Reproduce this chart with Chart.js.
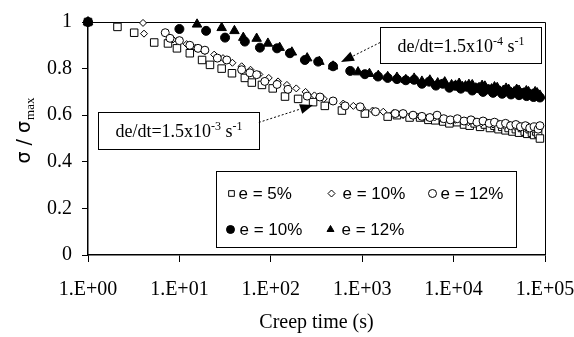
<!DOCTYPE html>
<html>
<head>
<meta charset="utf-8">
<script src="https://cdn.jsdelivr.net/npm/chart.js@4.4.1/dist/chart.umd.min.js"></script>
<style>
  html, body { margin: 0; padding: 0; background: #fff; }
  #wrap { width: 574px; height: 337px; }
</style>
</head>
<body>
<div id="wrap"><canvas id="creepChart" width="574" height="337"></canvas></div>
<script>
// creep time (s) and sigma / sigma_max for each run
const t5 = [1, 2.1, 3.2, 5.3, 7.5, 9.4, 13, 17.7, 21.6, 29, 37.6, 52, 62, 80, 105, 143, 199, 290, 390, 600, 1070, 1900, 2400, 3300, 4300, 5300, 6300, 7700, 9000, 11000, 13000, 15000, 17000, 19500, 22000, 25000, 28000, 31000, 34000, 37000, 40000, 44000, 48000, 52000, 56000, 60000, 64000, 68000, 72000, 76000, 80000, 84000, 88000];
const s5 = [1, 0.979, 0.954, 0.912, 0.908, 0.887, 0.866, 0.837, 0.816, 0.80, 0.78, 0.76, 0.74, 0.73, 0.715, 0.68, 0.67, 0.656, 0.64, 0.62, 0.607, 0.594, 0.60, 0.59, 0.59, 0.58, 0.578, 0.573, 0.565, 0.57, 0.56, 0.555, 0.565, 0.55, 0.56, 0.545, 0.555, 0.54, 0.55, 0.535, 0.545, 0.53, 0.54, 0.525, 0.545, 0.53, 0.52, 0.54, 0.525, 0.515, 0.53, 0.52, 0.50];

const t10o = [1, 4, 4.1, 8.5, 12, 15, 19, 24, 30, 38, 48, 60, 75, 95, 120, 150, 190, 240, 300, 380, 480, 620, 800, 1000, 1300, 1700, 2200, 2800, 3500, 4300, 5200, 6200, 7400, 8800, 10500, 12500, 14500, 17000, 20000, 23000, 27000, 31000, 36000, 41000, 47000, 53000, 60000, 67000, 74000, 81000, 88000];
const s10o = [1, 0.996, 0.95, 0.925, 0.905, 0.89, 0.875, 0.86, 0.845, 0.825, 0.81, 0.795, 0.775, 0.76, 0.745, 0.73, 0.715, 0.70, 0.685, 0.67, 0.66, 0.65, 0.64, 0.63, 0.62, 0.615, 0.61, 0.60, 0.60, 0.595, 0.59, 0.59, 0.585, 0.58, 0.58, 0.575, 0.57, 0.575, 0.565, 0.57, 0.56, 0.565, 0.555, 0.56, 0.55, 0.555, 0.545, 0.55, 0.54, 0.545, 0.55];

const t12o = [1, 7, 7.9, 10, 13, 16, 19, 26, 33, 48, 59, 70, 86, 117, 154, 250, 345, 480, 650, 950, 1400, 2300, 2800, 3600, 4500, 5500, 6600, 7800, 9200, 11000, 13000, 15500, 18000, 21000, 24500, 28000, 32500, 37000, 42000, 48000, 54000, 61000, 68000, 76000, 84000, 88000];
const s12o = [1, 0.954, 0.93, 0.92, 0.90, 0.887, 0.879, 0.845, 0.837, 0.795, 0.782, 0.774, 0.745, 0.732, 0.711, 0.682, 0.678, 0.661, 0.64, 0.636, 0.615, 0.607, 0.607, 0.60, 0.595, 0.59, 0.60, 0.585, 0.58, 0.585, 0.575, 0.58, 0.57, 0.575, 0.565, 0.57, 0.56, 0.565, 0.555, 0.56, 0.55, 0.555, 0.545, 0.55, 0.54, 0.555];

const t10f = [1, 10, 19.6, 31.6, 52, 76, 117, 162, 236, 330, 480, 740, 1070, 1490, 1900, 2400, 3000, 3700, 4500, 5400, 6400, 7600, 9000, 10500, 12000, 14000, 16000, 18500, 21000, 24000, 27000, 30500, 34000, 38000, 42500, 47000, 52000, 57500, 63000, 69000, 75000, 81000, 88000];
const s10f = [1, 0.97, 0.962, 0.933, 0.916, 0.89, 0.887, 0.866, 0.837, 0.83, 0.81, 0.79, 0.776, 0.766, 0.76, 0.755, 0.75, 0.752, 0.735, 0.744, 0.727, 0.735, 0.718, 0.726, 0.714, 0.722, 0.706, 0.716, 0.700, 0.711, 0.696, 0.706, 0.692, 0.703, 0.689, 0.699, 0.686, 0.695, 0.682, 0.69, 0.678, 0.686, 0.676];

const t12f = [1, 15.6, 29, 40, 50, 70, 93, 125, 170, 250, 340, 480, 900, 1200, 1500, 1900, 2400, 3000, 3700, 4500, 5500, 6700, 8000, 9500, 10500, 11500, 12500, 13500, 14700, 16000, 17500, 19000, 20500, 22000, 24000, 26000, 28000, 30000, 32500, 35000, 37500, 40000, 43000, 46000, 49000, 52000, 55500, 59000, 62500, 66000, 70000, 74000, 78000, 82000, 85000, 88000];
const s12f = [1, 0.99, 0.975, 0.962, 0.933, 0.929, 0.908, 0.89, 0.87, 0.845, 0.83, 0.81, 0.785, 0.778, 0.77, 0.765, 0.762, 0.752, 0.758, 0.745, 0.75, 0.738, 0.742, 0.73, 0.728, 0.736, 0.722, 0.725, 0.731, 0.73, 0.716, 0.718, 0.727, 0.724, 0.708, 0.712, 0.721, 0.718, 0.702, 0.706, 0.715, 0.71, 0.696, 0.70, 0.71, 0.706, 0.69, 0.695, 0.704, 0.70, 0.686, 0.69, 0.70, 0.695, 0.68, 0.685];

const seriesLabels = ['e = 5%', 'e = 10%', 'e = 12%', 'e = 10%', 'e = 12%'];

const xTickValues = [1, 10, 100, 1000, 10000, 100000];
const xTickLabels = ['1.E+00', '1.E+01', '1.E+02', '1.E+03', '1.E+04', '1.E+05'];
const yTickValues = [0, 0.2, 0.4, 0.6, 0.8, 1];
const yTickLabels = ['0', '0.2', '0.4', '0.6', '0.8', '1'];

// strain rate notes: box [tLeft, tRight, top, bottom], arrow from -> to (data coords)
const notes = [
  { exp: '-3', box: [1.29, 74, 0.615, 0.456], from: [74, 0.569], to: [290, 0.644] },
  { exp: '-4', box: [1570, 90400, 0.979, 0.824], from: [1570, 0.912], to: [586, 0.828] }
];

const serif = '"Liberation Serif", "Times New Roman", serif';
const sans = '"Liberation Sans", Arial, sans-serif';

function pts(t, v) {
  return t.map((x, i) => ({ x: x, y: v[i] }));
}

// order: lower number is drawn on top, so the filled runs sit above the open ones
function series(label, t, v, style, radius, filled, order) {
  return {
    label: label,
    data: pts(t, v),
    order: order,
    pointStyle: style,
    pointRadius: radius,
    pointHoverRadius: radius,
    pointBackgroundColor: filled ? '#000' : '#fff',
    pointBorderColor: '#000',
    pointBorderWidth: 1,
    showLine: false,
    clip: false
  };
}

function marker(ctx, ds, x, y) {
  ctx.fillStyle = ds.pointBackgroundColor;
  ctx.strokeStyle = '#000';
  ctx.lineWidth = 1;
  Chart.helpers.drawPoint(ctx, { pointStyle: ds.pointStyle, radius: ds.pointRadius, rotation: 0, borderWidth: 1 }, x, y);
}

// frame round the plot area
const framePlugin = {
  id: 'frame',
  beforeDatasetsDraw(chart) {
    const a = chart.chartArea, ctx = chart.ctx;
    ctx.save();
    ctx.strokeStyle = '#000';
    ctx.lineWidth = 1;
    ctx.beginPath();
    ctx.moveTo(a.left, a.top + 0.5);
    ctx.lineTo(a.right + 0.5, a.top + 0.5);
    ctx.lineTo(a.right + 0.5, a.bottom);
    ctx.stroke();
    ctx.restore();
  }
};

// annotation boxes with dashed arrows
const notesPlugin = {
  id: 'notes',
  afterDatasetsDraw(chart) {
    const ctx = chart.ctx, xs = chart.scales.x, ys = chart.scales.y;
    ctx.save();
    notes.forEach(n => {
      const l = Math.round(xs.getPixelForValue(n.box[0])) + 0.5;
      const r = Math.round(xs.getPixelForValue(n.box[1])) + 0.5;
      const t = Math.round(ys.getPixelForValue(n.box[2])) + 0.5;
      const b = Math.round(ys.getPixelForValue(n.box[3])) + 0.5;
      ctx.fillStyle = '#fff';
      ctx.fillRect(l, t, r - l, b - t);
      ctx.strokeStyle = '#000';
      ctx.lineWidth = 1;
      ctx.setLineDash([]);
      ctx.strokeRect(l, t, r - l, b - t);

      // text with superscripts
      const parts = [['de/dt=1.5x10', 18, 0], [n.exp, 12, -7], [' s', 18, 0], ['-1', 12, -7]];
      let w = 0;
      parts.forEach(p => { ctx.font = p[1] + 'px ' + serif; w += ctx.measureText(p[0]).width; });
      let x = (l + r) / 2 - w / 2;
      const base = (t + b) / 2 + 6;
      ctx.fillStyle = '#000';
      ctx.textBaseline = 'alphabetic';
      parts.forEach(p => {
        ctx.font = p[1] + 'px ' + serif;
        ctx.fillText(p[0], x, base + p[2]);
        x += ctx.measureText(p[0]).width;
      });

      // arrow
      const x0 = xs.getPixelForValue(n.from[0]), y0 = ys.getPixelForValue(n.from[1]);
      const x1 = xs.getPixelForValue(n.to[0]), y1 = ys.getPixelForValue(n.to[1]);
      const ang = Math.atan2(y1 - y0, x1 - x0);
      const hl = 13, hw = 5;
      const bx = x1 - hl * Math.cos(ang), by = y1 - hl * Math.sin(ang);
      ctx.setLineDash([2, 2]);
      ctx.beginPath();
      ctx.moveTo(x0, y0);
      ctx.lineTo(bx, by);
      ctx.stroke();
      ctx.setLineDash([]);
      ctx.beginPath();
      ctx.moveTo(x1, y1);
      ctx.lineTo(bx + hw * Math.sin(ang), by - hw * Math.cos(ang));
      ctx.lineTo(bx - hw * Math.sin(ang), by + hw * Math.cos(ang));
      ctx.closePath();
      ctx.fill();
    });
    ctx.restore();
  }
};

// legend box inside the plot, 3 + 2 entries
const legendPlugin = {
  id: 'boxLegend',
  afterDatasetsDraw(chart) {
    const ctx = chart.ctx, xs = chart.scales.x, ys = chart.scales.y;
    const l = Math.round(xs.getPixelForValue(25.1)) + 0.5;
    const r = Math.round(xs.getPixelForValue(48200)) + 0.5;
    const t = Math.round(ys.getPixelForValue(0.36)) + 0.5;
    const b = Math.round(ys.getPixelForValue(0.033)) + 0.5;
    ctx.save();
    ctx.fillStyle = '#fff';
    ctx.fillRect(l, t, r - l, b - t);
    ctx.strokeStyle = '#000';
    ctx.lineWidth = 1;
    ctx.strokeRect(l, t, r - l, b - t);
    const slots = [[15, 22, 22], [115, 126, 22], [216, 224, 22], [14, 23, 58], [114, 125, 58]];
    chart.data.datasets.forEach((ds, i) => {
      const s = slots[i];
      marker(ctx, Object.assign({}, ds, { pointRadius: Math.min(ds.pointRadius, 4) }), l + s[0], t + s[2]);
      ctx.fillStyle = '#000';
      ctx.font = '17px ' + sans;
      ctx.textBaseline = 'middle';
      ctx.fillText(ds.label, l + s[1], t + s[2] + 1);
    });
    ctx.restore();
  }
};

// rotated y title with subscript
const yTitlePlugin = {
  id: 'yTitle',
  afterDraw(chart) {
    const ctx = chart.ctx;
    ctx.save();
    ctx.translate(25, 131);
    ctx.rotate(-Math.PI / 2);
    ctx.fillStyle = '#000';
    ctx.textBaseline = 'middle';
    ctx.font = '19px "DejaVu Sans"';
    const main = 'σ / σ';
    const w1 = ctx.measureText(main).width;
    ctx.font = '13px ' + serif;
    const w2 = ctx.measureText('max').width;
    const x = -(w1 + w2) / 2;
    ctx.font = '19px "DejaVu Sans"';
    ctx.fillText(main, x, 0);
    ctx.font = '13px ' + serif;
    ctx.fillText('max', x + w1 + 1, 6);
    ctx.restore();
  }
};

const ctx = document.getElementById('creepChart').getContext('2d');
const chart = new Chart(ctx, {
  type: 'scatter',
  data: {
    datasets: [
      series(seriesLabels[0], t5, s5, 'rect', 5.3, false, 5),
      series(seriesLabels[1], t10o, s10o, 'rectRot', 3.5, false, 4),
      series(seriesLabels[2], t12o, s12o, 'circle', 4, false, 3),
      series(seriesLabels[3], t10f, s10f, 'circle', 4.5, true, 2),
      series(seriesLabels[4], t12f, s12f, 'triangle', 5.5, true, 1)
    ]
  },
  options: {
    responsive: false,
    animation: false,
    devicePixelRatio: 1,
    layout: { padding: { top: 16, right: 0, left: 0, bottom: 0 } },
    plugins: {
      legend: { display: false },
      tooltip: { enabled: false }
    },
    scales: {
      x: {
        type: 'logarithmic',
        min: 1,
        max: 100000,
        afterFit: s => { s.height = 82; s.paddingRight = 29; },
        afterBuildTicks: s => { s.ticks = xTickValues.map(v => ({ value: v })); },
        ticks: {
          color: '#000',
          font: { family: serif, size: 20 },
          padding: 16,
          maxRotation: 0,
          autoSkip: false,
          callback: (v) => xTickLabels[xTickValues.indexOf(v)]
        },
        grid: { drawOnChartArea: false, drawTicks: true, tickLength: 7, color: '#000', lineWidth: 1 },
        border: { display: true, color: '#000', width: 1.5 },
        title: {
          display: true,
          text: 'Creep time (s)',
          color: '#000',
          font: { family: serif, size: 20 },
          padding: { top: 0, bottom: 2 }
        }
      },
      y: {
        min: 0,
        max: 1,
        afterFit: s => { s.width = 88; },
        afterBuildTicks: s => { s.ticks = yTickValues.map(v => ({ value: v })); },
        ticks: {
          color: '#000',
          font: { family: serif, size: 20 },
          padding: 10,
          callback: (v) => yTickLabels[yTickValues.indexOf(v)]
        },
        grid: { drawOnChartArea: false, drawTicks: true, tickLength: 6, color: '#000', lineWidth: 1 },
        border: { display: true, color: '#000', width: 1.5 }
      }
    }
  },
  plugins: [framePlugin, notesPlugin, legendPlugin, yTitlePlugin]
});
</script>
</body>
</html>
